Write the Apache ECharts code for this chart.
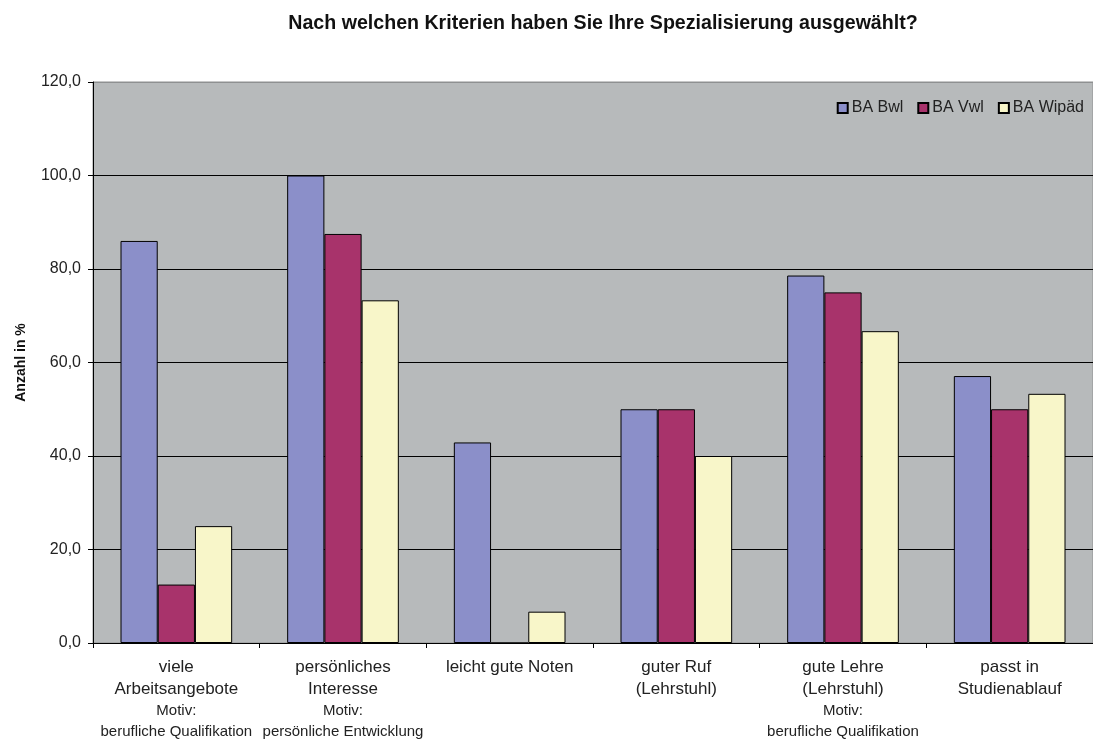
<!DOCTYPE html>
<html>
<head>
<meta charset="utf-8">
<script src="https://cdn.jsdelivr.net/npm/echarts@6/dist/echarts.min.js"></script>
<style>
  html, body { margin: 0; padding: 0; background: #fff; }
  #main { width: 1093px; height: 740px; }
</style>
</head>
<body>
<div id="main"></div>
<script>
// Kategorien (Hauptzeile + Motiv-Zeile)
const categories = [
  'viele\nArbeitsangebote',
  'persönliches\nInteresse',
  'leicht gute Noten',
  'guter Ruf\n(Lehrstuhl)',
  'gute Lehre\n(Lehrstuhl)',
  'passt in\nStudienablauf'
];
const motive = [
  'Motiv:\nberufliche Qualifikation',
  'Motiv:\npersönliche Entwicklung',
  '',
  '',
  'Motiv:\nberufliche Qualifikation',
  ''
];

// Werte in %
const bwl = [86.0, 100.0, 42.9, 50.0, 78.6, 57.1];
const vwl = [12.5, 87.5, 0, 50.0, 75.0, 50.0];
const wipaed = [25.0, 73.3, 6.7, 40.0, 66.7, 53.3];

const seriesNames = ['BA Bwl', 'BA Vwl', 'BA Wipäd'];
const colors = ['#8b8fc9', '#a8336b', '#f8f6c9'];

const font = 'Liberation Sans, Arial, sans-serif';
const chart = echarts.init(document.getElementById('main'));

const option = {
  animation: false,
  textStyle: { fontFamily: font, color: '#222' },
  title: {
    text: 'Nach welchen Kriterien haben Sie Ihre Spezialisierung ausgewählt?',
    left: 598, top: 9, textAlign: 'center',
    textStyle: { fontSize: 19.6, fontWeight: 'bold', color: '#111', fontFamily: font }
  },
  legend: {
    data: seriesNames,
    right: 4, top: 95,
    itemWidth: 10, itemHeight: 10, itemGap: 14,
    icon: 'rect',
    textStyle: { fontSize: 16, color: '#222', padding: [0, 0, 0, -1] }
  },
  grid: {
    left: 93, right: 0, top: 82, bottom: 97,
    show: true, backgroundColor: '#b7babb', borderColor: '#8e9091', borderWidth: 1
  },
  xAxis: {
    type: 'category',
    data: categories,
    axisLine: { show: true, lineStyle: { color: '#000', width: 1 } },
    axisTick: { show: true, length: 5, lineStyle: { color: '#000' } },
    axisLabel: {
      interval: 0,
      margin: 13,
      formatter: (value, idx) => {
        let s = '{a|' + value.split('\n').join('}\n{a|') + '}';
        if (motive[idx]) s += '\n{m|' + motive[idx].split('\n').join('}\n{m|') + '}';
        return s;
      },
      rich: {
        a: { fontSize: 17, lineHeight: 22, color: '#222', fontFamily: font },
        m: { fontSize: 15, lineHeight: 21, color: '#222', fontFamily: font }
      }
    }
  },
  yAxis: {
    type: 'value',
    min: 0, max: 120, interval: 20,
    name: 'Anzahl in %',
    nameLocation: 'middle',
    nameGap: 65,
    nameTextStyle: { fontSize: 14, fontWeight: 'bold', color: '#111' },
    axisLine: { show: true, lineStyle: { color: '#000', width: 1 } },
    axisTick: { show: true, length: 5, lineStyle: { color: '#000' } },
    axisLabel: {
      fontSize: 16, color: '#222', margin: 12,
      formatter: (v) => v.toFixed(1).replace('.', ',')
    },
    splitLine: {
      show: true,
      lineStyle: { color: ['#000', '#000', '#000', '#000', '#000', '#000', '#8e9091'], width: 1 }
    }
  },
  series: [bwl, vwl, wipaed].map((d, i) => ({
    name: seriesNames[i],
    type: 'bar',
    data: d,
    barGap: '0%',
    barCategoryGap: '33%',
    itemStyle: { color: colors[i], borderColor: '#000', borderWidth: 1 }
  }))
};

chart.setOption(option);
</script>
</body>
</html>
